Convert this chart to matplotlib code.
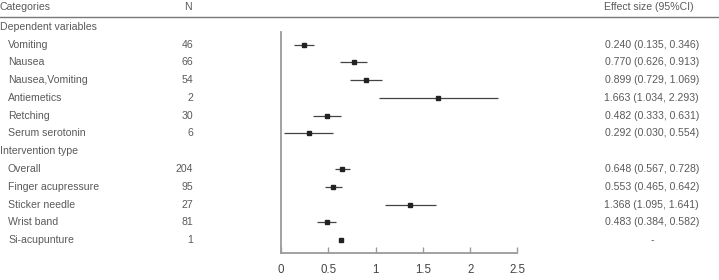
import matplotlib
matplotlib.use("Agg")
import matplotlib.pyplot as plt
import matplotlib.transforms as mtransforms

plt.rcParams['font.family'] = ['Liberation Sans', 'DejaVu Sans']

# ---- data ----
labels = ["Dependent variables", "Vomiting", "Nausea", "Nausea,Vomiting", "Antiemetics",
          "Retching", "Serum serotonin", "Intervention type", "Overall",
          "Finger acupressure", "Sticker needle", "Wrist band", "Si-acupunture"]
is_header = [True, False, False, False, False, False, False, True, False, False, False, False, False]
n_values = ["", "46", "66", "54", "2", "30", "6", "", "204", "95", "27", "81", "1"]
effect = [None, 0.240, 0.770, 0.899, 1.663, 0.482, 0.292, None, 0.648, 0.553, 1.368, 0.483, 0.63]
ci_low = [None, 0.135, 0.626, 0.729, 1.034, 0.333, 0.030, None, 0.567, 0.465, 1.095, 0.384, None]
ci_high = [None, 0.346, 0.913, 1.069, 2.293, 0.631, 0.554, None, 0.728, 0.642, 1.641, 0.582, None]
effect_text = ["", "0.240 (0.135, 0.346)", "0.770 (0.626, 0.913)", "0.899 (0.729, 1.069)",
               "1.663 (1.034, 2.293)", "0.482 (0.333, 0.631)", "0.292 (0.030, 0.554)", "",
               "0.648 (0.567, 0.728)", "0.553 (0.465, 0.642)", "1.368 (1.095, 1.641)",
               "0.483 (0.384, 0.582)", "-"]
xticks = [0, 0.5, 1, 1.5, 2, 2.5]
xtick_labels = ["0", "0.5", "1", "1.5", "2", "2.5"]

W, H = 719, 280
fig = plt.figure(figsize=(W / 100, H / 100), dpi=100)

txt_color = "#5a5a5a"
axis_color = "#9a9a9a"
fs = 7.6

ax = fig.add_axes([281 / W, 27.3 / H, (517.5 - 281) / W, 221 / H])
ax.set_xlim(0, 2.5)
ax.set_ylim(12.7, 0.28)

for i, (e, lo, hi) in enumerate(zip(effect, ci_low, ci_high)):
    if e is None:
        continue
    if lo is not None:
        ax.plot([lo, hi], [i, i], color="#444444", lw=0.9, solid_capstyle="butt")
    ax.plot([e], [i], marker="s", ms=3.1, color="#222222", linestyle="none")

for s in ["top", "right"]:
    ax.spines[s].set_visible(False)
for s in ["left", "bottom"]:
    ax.spines[s].set_color(axis_color)
    ax.spines[s].set_linewidth(1.3)
ax.set_yticks([])
ax.set_xticks(xticks)
ax.set_xticklabels(xtick_labels)
ax.tick_params(axis="x", direction="in", length=4, width=1, color=axis_color,
               labelsize=8.3, labelcolor="#444444", pad=8)

# row texts
trans = mtransforms.blended_transform_factory(fig.transFigure, ax.transData)
for i, lab in enumerate(labels):
    x = 0 / W if is_header[i] else 8 / W
    fig.text(x, i, lab, transform=trans, fontsize=fs, color=txt_color, va="center", ha="left")
    if n_values[i]:
        fig.text(193 / W, i, n_values[i], transform=trans, fontsize=fs, color=txt_color,
                 va="center", ha="right")
    if effect_text[i]:
        if effect_text[i] == "-":
            fig.text(652 / W, i, "-", transform=trans, fontsize=fs, color=txt_color,
                     va="center", ha="center")
        else:
            fig.text(699 / W, i, effect_text[i], transform=trans, fontsize=fs, color=txt_color,
                     va="center", ha="right")

# header
hy = 1 - 7 / H
fig.text(0, hy, "Categories", fontsize=fs, color=txt_color, va="center", ha="left")
fig.text(188 / W, hy, "N", fontsize=fs, color=txt_color, va="center", ha="center")
fig.text(694 / W, hy, "Effect size (95%CI)", fontsize=fs, color=txt_color, va="center", ha="right")
fig.add_artist(plt.Line2D([0, 1], [1 - 17.3 / H, 1 - 17.3 / H], transform=fig.transFigure,
                          color="#777777", lw=1.0))

fig.savefig("out.png", dpi=100)
